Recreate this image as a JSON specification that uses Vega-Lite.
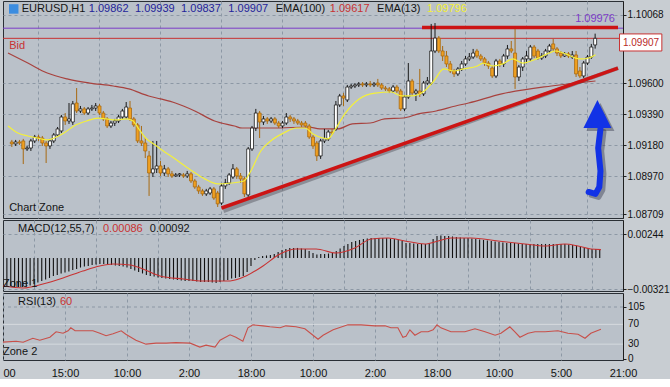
{
"$schema": "https://vega.github.io/schema/vega-lite/v6.json",
"background": "#c8cdd2",
"padding": 0,
"spacing": 2,
"bounds": "flush",
"config": {
 "view": {"stroke": "#2a2f35", "strokeWidth": 1, "fill": "#bac1c9"},
 "axis": {"labelFont": "Liberation Sans", "labelFontSize": 11, "labelColor": "#111111", "domainColor": "#1e1e1e", "tickColor": "#1e1e1e", "tickSize": 3},
 "text": {"font": "Liberation Sans", "fontSize": 11}
},
"datasets": {
 "candles": [
{"i":1,"o":1.09202,"h":1.09216,"l":1.09168,"c":1.09189},
{"i":2,"o":1.09189,"h":1.09216,"l":1.09175,"c":1.09202},
{"i":3,"o":1.09202,"h":1.09216,"l":1.09182,"c":1.09195},
{"i":4,"o":1.09209,"h":1.09223,"l":1.09052,"c":1.09155},
{"i":5,"o":1.09155,"h":1.09175,"l":1.09141,"c":1.09161},
{"i":6,"o":1.09161,"h":1.09223,"l":1.09141,"c":1.09209},
{"i":7,"o":1.09209,"h":1.0925,"l":1.09195,"c":1.09236},
{"i":8,"o":1.09236,"h":1.0925,"l":1.09209,"c":1.09229},
{"i":9,"o":1.09229,"h":1.09243,"l":1.09175,"c":1.09195},
{"i":10,"o":1.09195,"h":1.09209,"l":1.09059,"c":1.09175},
{"i":11,"o":1.09175,"h":1.09223,"l":1.09155,"c":1.09209},
{"i":12,"o":1.09209,"h":1.09263,"l":1.09195,"c":1.0925},
{"i":13,"o":1.0925,"h":1.09304,"l":1.09236,"c":1.09291},
{"i":14,"o":1.09277,"h":1.09386,"l":1.09263,"c":1.09372},
{"i":15,"o":1.09372,"h":1.09399,"l":1.09318,"c":1.09345},
{"i":16,"o":1.09345,"h":1.09467,"l":1.09325,"c":1.09359},
{"i":17,"o":1.09338,"h":1.09481,"l":1.09318,"c":1.09461},
{"i":18,"o":1.09467,"h":1.09569,"l":1.09399,"c":1.09413},
{"i":19,"o":1.09413,"h":1.09447,"l":1.09399,"c":1.09427},
{"i":20,"o":1.09427,"h":1.0944,"l":1.09386,"c":1.09399},
{"i":21,"o":1.09399,"h":1.0944,"l":1.09386,"c":1.09427},
{"i":22,"o":1.09427,"h":1.09454,"l":1.09413,"c":1.09433},
{"i":23,"o":1.09433,"h":1.09467,"l":1.09413,"c":1.09447},
{"i":24,"o":1.09447,"h":1.09461,"l":1.09386,"c":1.09399},
{"i":25,"o":1.09399,"h":1.09413,"l":1.09345,"c":1.09359},
{"i":26,"o":1.09359,"h":1.09372,"l":1.09297,"c":1.09311},
{"i":27,"o":1.09311,"h":1.09345,"l":1.09297,"c":1.09331},
{"i":28,"o":1.09331,"h":1.09359,"l":1.09311,"c":1.09345},
{"i":29,"o":1.09345,"h":1.09386,"l":1.09331,"c":1.09372},
{"i":30,"o":1.09372,"h":1.09427,"l":1.09359,"c":1.09413},
{"i":31,"o":1.09372,"h":1.09474,"l":1.09359,"c":1.0944},
{"i":32,"o":1.09433,"h":1.09481,"l":1.09345,"c":1.09359},
{"i":33,"o":1.09359,"h":1.09372,"l":1.09304,"c":1.09318},
{"i":34,"o":1.09318,"h":1.09331,"l":1.09195,"c":1.09209},
{"i":35,"o":1.09209,"h":1.09311,"l":1.09175,"c":1.09195},
{"i":36,"o":1.09195,"h":1.09236,"l":1.09093,"c":1.09141},
{"i":37,"o":1.09107,"h":1.09141,"l":1.08835,"c":1.08991},
{"i":38,"o":1.08991,"h":1.09209,"l":1.08964,"c":1.09019},
{"i":39,"o":1.09019,"h":1.09209,"l":1.08991,"c":1.09039},
{"i":40,"o":1.09039,"h":1.09073,"l":1.08971,"c":1.08991},
{"i":41,"o":1.08991,"h":1.09046,"l":1.08971,"c":1.09019},
{"i":42,"o":1.09019,"h":1.09032,"l":1.08964,"c":1.08985},
{"i":43,"o":1.08985,"h":1.09005,"l":1.08957,"c":1.08971},
{"i":44,"o":1.08971,"h":1.08991,"l":1.08964,"c":1.08978},
{"i":45,"o":1.08978,"h":1.08991,"l":1.08964,"c":1.08985},
{"i":46,"o":1.08978,"h":1.08991,"l":1.08957,"c":1.08971},
{"i":47,"o":1.08971,"h":1.09005,"l":1.08957,"c":1.08985},
{"i":48,"o":1.08985,"h":1.08998,"l":1.08923,"c":1.08937},
{"i":49,"o":1.08937,"h":1.08951,"l":1.08883,"c":1.08896},
{"i":50,"o":1.08896,"h":1.0891,"l":1.08849,"c":1.08869},
{"i":51,"o":1.08869,"h":1.08883,"l":1.08835,"c":1.08849},
{"i":52,"o":1.08849,"h":1.08883,"l":1.08835,"c":1.08869},
{"i":53,"o":1.08855,"h":1.08896,"l":1.08842,"c":1.08883},
{"i":54,"o":1.08883,"h":1.08896,"l":1.08808,"c":1.08821},
{"i":55,"o":1.08855,"h":1.08869,"l":1.0876,"c":1.08781},
{"i":56,"o":1.08787,"h":1.08917,"l":1.08774,"c":1.08903},
{"i":57,"o":1.08903,"h":1.08951,"l":1.08883,"c":1.08923},
{"i":58,"o":1.08923,"h":1.08991,"l":1.0891,"c":1.08978},
{"i":59,"o":1.08964,"h":1.09052,"l":1.08951,"c":1.09019},
{"i":60,"o":1.09019,"h":1.09032,"l":1.08951,"c":1.08971},
{"i":61,"o":1.08971,"h":1.08991,"l":1.08923,"c":1.08951},
{"i":62,"o":1.08951,"h":1.08964,"l":1.08828,"c":1.08849},
{"i":63,"o":1.08842,"h":1.09168,"l":1.08828,"c":1.09155},
{"i":64,"o":1.09155,"h":1.09311,"l":1.09141,"c":1.09297},
{"i":65,"o":1.09297,"h":1.09427,"l":1.09277,"c":1.09399},
{"i":66,"o":1.09399,"h":1.09413,"l":1.09229,"c":1.09338},
{"i":67,"o":1.09338,"h":1.09379,"l":1.09318,"c":1.09359},
{"i":68,"o":1.09359,"h":1.09372,"l":1.09325,"c":1.09345},
{"i":69,"o":1.09345,"h":1.09372,"l":1.09331,"c":1.09359},
{"i":70,"o":1.09359,"h":1.09372,"l":1.09318,"c":1.09331},
{"i":71,"o":1.09331,"h":1.09345,"l":1.09297,"c":1.09311},
{"i":72,"o":1.09311,"h":1.09345,"l":1.09297,"c":1.09331},
{"i":73,"o":1.09331,"h":1.09399,"l":1.09318,"c":1.09372},
{"i":74,"o":1.09372,"h":1.09386,"l":1.09338,"c":1.09359},
{"i":75,"o":1.09359,"h":1.09372,"l":1.09325,"c":1.09345},
{"i":76,"o":1.09345,"h":1.09359,"l":1.09318,"c":1.09331},
{"i":77,"o":1.09331,"h":1.09345,"l":1.09304,"c":1.09318},
{"i":78,"o":1.09331,"h":1.09345,"l":1.09297,"c":1.09311},
{"i":79,"o":1.09311,"h":1.09325,"l":1.09223,"c":1.09236},
{"i":80,"o":1.09236,"h":1.0925,"l":1.09155,"c":1.09175},
{"i":81,"o":1.09195,"h":1.09209,"l":1.09073,"c":1.09107},
{"i":82,"o":1.09107,"h":1.09223,"l":1.09087,"c":1.09209},
{"i":83,"o":1.09209,"h":1.09291,"l":1.09195,"c":1.09223},
{"i":84,"o":1.09223,"h":1.09284,"l":1.09209,"c":1.0927},
{"i":85,"o":1.0927,"h":1.09291,"l":1.0925,"c":1.09263},
{"i":86,"o":1.09291,"h":1.09481,"l":1.09277,"c":1.09454},
{"i":87,"o":1.09454,"h":1.09529,"l":1.0944,"c":1.09515},
{"i":88,"o":1.09515,"h":1.09535,"l":1.09447,"c":1.09501},
{"i":89,"o":1.09488,"h":1.0959,"l":1.09474,"c":1.09576},
{"i":90,"o":1.09576,"h":1.09597,"l":1.09563,"c":1.09583},
{"i":91,"o":1.09583,"h":1.09603,"l":1.09569,"c":1.0959},
{"i":92,"o":1.0959,"h":1.0961,"l":1.09576,"c":1.09597},
{"i":93,"o":1.09597,"h":1.0961,"l":1.09576,"c":1.0959},
{"i":94,"o":1.0959,"h":1.0961,"l":1.09576,"c":1.09597},
{"i":95,"o":1.09597,"h":1.09617,"l":1.09576,"c":1.0959},
{"i":96,"o":1.0959,"h":1.0961,"l":1.09576,"c":1.09597},
{"i":97,"o":1.09603,"h":1.09631,"l":1.09576,"c":1.0959},
{"i":98,"o":1.0959,"h":1.09603,"l":1.09556,"c":1.09569},
{"i":99,"o":1.09569,"h":1.09583,"l":1.09549,"c":1.09563},
{"i":100,"o":1.09563,"h":1.09576,"l":1.09535,"c":1.09549},
{"i":101,"o":1.09549,"h":1.0959,"l":1.09535,"c":1.09576},
{"i":102,"o":1.09576,"h":1.0959,"l":1.09535,"c":1.09549},
{"i":103,"o":1.09549,"h":1.09563,"l":1.09413,"c":1.09427},
{"i":104,"o":1.09427,"h":1.09522,"l":1.09413,"c":1.09508},
{"i":105,"o":1.09508,"h":1.09739,"l":1.09495,"c":1.09617},
{"i":106,"o":1.09617,"h":1.09631,"l":1.09515,"c":1.09535},
{"i":107,"o":1.09535,"h":1.09563,"l":1.09481,"c":1.09549},
{"i":108,"o":1.09549,"h":1.09699,"l":1.09508,"c":1.09529},
{"i":109,"o":1.09529,"h":1.09617,"l":1.09515,"c":1.09603},
{"i":110,"o":1.09603,"h":1.09644,"l":1.0959,"c":1.09617},
{"i":111,"o":1.09603,"h":1.10005,"l":1.0959,"c":1.09821},
{"i":112,"o":1.09821,"h":1.10011,"l":1.09807,"c":1.09909},
{"i":113,"o":1.09909,"h":1.09923,"l":1.09807,"c":1.09821},
{"i":114,"o":1.09821,"h":1.09855,"l":1.09753,"c":1.09787},
{"i":115,"o":1.09787,"h":1.09821,"l":1.09712,"c":1.09733},
{"i":116,"o":1.09733,"h":1.09753,"l":1.09671,"c":1.09685},
{"i":117,"o":1.09685,"h":1.09699,"l":1.09644,"c":1.09665},
{"i":118,"o":1.09665,"h":1.09712,"l":1.09651,"c":1.09699},
{"i":119,"o":1.09699,"h":1.09753,"l":1.09685,"c":1.09733},
{"i":120,"o":1.09733,"h":1.09787,"l":1.09719,"c":1.09767},
{"i":121,"o":1.09767,"h":1.09807,"l":1.09753,"c":1.0978},
{"i":122,"o":1.0978,"h":1.09835,"l":1.09767,"c":1.09807},
{"i":123,"o":1.09821,"h":1.09835,"l":1.09773,"c":1.09787},
{"i":124,"o":1.09787,"h":1.09801,"l":1.09753,"c":1.09767},
{"i":125,"o":1.09767,"h":1.0978,"l":1.09719,"c":1.09739},
{"i":126,"o":1.09739,"h":1.09753,"l":1.09699,"c":1.09719},
{"i":127,"o":1.09705,"h":1.09719,"l":1.09637,"c":1.09651},
{"i":128,"o":1.09651,"h":1.09767,"l":1.09637,"c":1.09753},
{"i":129,"o":1.09753,"h":1.09767,"l":1.09712,"c":1.09733},
{"i":130,"o":1.09733,"h":1.09801,"l":1.09712,"c":1.09787},
{"i":131,"o":1.09787,"h":1.09862,"l":1.09767,"c":1.09835},
{"i":132,"o":1.09835,"h":1.09889,"l":1.09807,"c":1.09821},
{"i":133,"o":1.09807,"h":1.09971,"l":1.09563,"c":1.09644},
{"i":134,"o":1.09644,"h":1.09726,"l":1.09617,"c":1.09712},
{"i":135,"o":1.09712,"h":1.0978,"l":1.09685,"c":1.09767},
{"i":136,"o":1.09767,"h":1.09821,"l":1.09739,"c":1.09787},
{"i":137,"o":1.09767,"h":1.09862,"l":1.09753,"c":1.09848},
{"i":138,"o":1.09848,"h":1.09862,"l":1.09773,"c":1.09787},
{"i":139,"o":1.09821,"h":1.09835,"l":1.0976,"c":1.09773},
{"i":140,"o":1.09773,"h":1.09807,"l":1.0976,"c":1.09787},
{"i":141,"o":1.09787,"h":1.09835,"l":1.09773,"c":1.09821},
{"i":142,"o":1.09821,"h":1.09869,"l":1.09807,"c":1.09855},
{"i":143,"o":1.09869,"h":1.09903,"l":1.09821,"c":1.09835},
{"i":144,"o":1.09835,"h":1.09848,"l":1.09787,"c":1.09807},
{"i":145,"o":1.09807,"h":1.09821,"l":1.09773,"c":1.09787},
{"i":146,"o":1.09787,"h":1.09814,"l":1.0978,"c":1.09801},
{"i":147,"o":1.09801,"h":1.09814,"l":1.09773,"c":1.09787},
{"i":148,"o":1.0978,"h":1.09821,"l":1.09767,"c":1.09794},
{"i":149,"o":1.09794,"h":1.09821,"l":1.09644,"c":1.09665},
{"i":150,"o":1.09685,"h":1.09712,"l":1.09637,"c":1.09651},
{"i":151,"o":1.09651,"h":1.09753,"l":1.09637,"c":1.09739},
{"i":152,"o":1.09739,"h":1.09794,"l":1.09726,"c":1.0978},
{"i":153,"o":1.0978,"h":1.09869,"l":1.09767,"c":1.09848},
{"i":154,"o":1.09862,"h":1.09939,"l":1.09837,"c":1.09907}
 ],
 "e13": [
{"i":0,"p":1.09311},{"i":2.6,"p":1.09263},{"i":5.2,"p":1.09243},{"i":7.7,"p":1.09229},{"i":10.3,"p":1.09216},{"i":12.1,"p":1.09229},{"i":14.7,"p":1.09263},{"i":17.3,"p":1.09311},{"i":20.6,"p":1.09345},{"i":23.7,"p":1.09365},{"i":25.8,"p":1.09359},{"i":28.4,"p":1.09352},{"i":31,"p":1.09359},{"i":32.8,"p":1.09345},{"i":34.3,"p":1.09291},{"i":36.1,"p":1.09229},{"i":38.2,"p":1.09189},{"i":40,"p":1.09155},{"i":44.6,"p":1.09073},{"i":48.3,"p":1.09005},{"i":51.6,"p":1.08951},{"i":55,"p":1.08917},{"i":58.6,"p":1.08923},{"i":61.9,"p":1.08937},{"i":63.7,"p":1.09005},{"i":66.3,"p":1.09141},{"i":68.9,"p":1.09209},{"i":72.3,"p":1.09263},{"i":75.6,"p":1.09297},{"i":77.9,"p":1.09297},{"i":80,"p":1.09257},{"i":82.6,"p":1.09229},{"i":83.9,"p":1.09223},{"i":85.9,"p":1.09291},{"i":88.5,"p":1.09399},{"i":92.1,"p":1.09495},{"i":96.3,"p":1.09535},{"i":100.6,"p":1.09542},{"i":103.2,"p":1.09515},{"i":105.8,"p":1.09515},{"i":109.2,"p":1.09549},{"i":111.7,"p":1.09617},{"i":114.3,"p":1.09699},{"i":116.9,"p":1.09685},{"i":119.5,"p":1.09699},{"i":123.1,"p":1.09719},{"i":124.6,"p":1.09739},{"i":127.2,"p":1.09719},{"i":129.8,"p":1.09733},{"i":132.4,"p":1.09767},{"i":135,"p":1.09739},{"i":138.6,"p":1.09767},{"i":141.9,"p":1.09807},{"i":143.7,"p":1.09821},{"i":146.3,"p":1.09801},{"i":148.9,"p":1.09773},{"i":150.5,"p":1.09767},{"i":152.3,"p":1.09773},{"i":154.1,"p":1.09796}
 ],
 "e100": [
{"i":0,"p":1.09807},{"i":5.2,"p":1.09739},{"i":10.3,"p":1.09671},{"i":15.5,"p":1.09631},{"i":21.4,"p":1.09603},{"i":27.6,"p":1.09583},{"i":31.7,"p":1.09563},{"i":36.9,"p":1.09515},{"i":40,"p":1.09495},{"i":43.9,"p":1.09467},{"i":49,"p":1.09413},{"i":54.2,"p":1.09345},{"i":59.4,"p":1.09311},{"i":61.4,"p":1.09297},{"i":69.7,"p":1.09297},{"i":78.7,"p":1.09304},{"i":81.8,"p":1.09291},{"i":86.5,"p":1.09291},{"i":90.3,"p":1.09325},{"i":95,"p":1.09331},{"i":98.8,"p":1.09359},{"i":103.7,"p":1.09365},{"i":107.6,"p":1.09393},{"i":112.3,"p":1.09413},{"i":117.4,"p":1.09447},{"i":120.8,"p":1.09467},{"i":129.5,"p":1.09529},{"i":142.5,"p":1.09583},{"i":154.1,"p":1.09617}
 ],
 "arrow": [
{"k":1,"i":155.4,"p":1.09291},{"k":2,"i":154.8,"p":1.09161},{"k":3,"i":155.4,"p":1.09005},{"k":4,"i":155.1,"p":1.08896},{"k":5,"i":154.1,"p":1.08849},{"k":6,"i":152.3,"p":1.08862}
 ],
 "notes1": [
{"t":"EURUSD,H1","i":3.6,"p":1.10107,"g":"k"},
{"t":"1.09862","i":21.2,"p":1.10107,"g":"b"},
{"t":"1.09939","i":33.3,"p":1.10107,"g":"b"},
{"t":"1.09837","i":45.4,"p":1.10107,"g":"b"},
{"t":"1.09907","i":57.8,"p":1.10107,"g":"b"},
{"t":"EMA(100)","i":70.2,"p":1.10107,"g":"k"},
{"t":"1.09617","i":84.4,"p":1.10107,"g":"r"},
{"t":"EMA(13)","i":96.8,"p":1.10107,"g":"k"},
{"t":"1.09796","i":109.9,"p":1.10107,"g":"y"},
{"t":"Bid","i":0.3,"p":1.09855,"g":"r"},
{"t":"Chart Zone","i":0.3,"p":1.08753,"g":"k"}
 ],
 "macd": [
{"i":1,"m":-0.00288},{"i":2,"m":-0.00293},{"i":3,"m":-0.00298},{"i":4,"m":-0.00298},{"i":5,"m":-0.00298},{"i":6,"m":-0.00293},{"i":7,"m":-0.00282},{"i":8,"m":-0.00267},{"i":9,"m":-0.00252},{"i":10,"m":-0.00236},
{"i":11,"m":-0.00221},{"i":12,"m":-0.00205},{"i":13,"m":-0.00185},{"i":14,"m":-0.00175},{"i":15,"m":-0.00159},{"i":16,"m":-0.00149},{"i":17,"m":-0.00139},{"i":18,"m":-0.00123},{"i":19,"m":-0.00113},{"i":20,"m":-0.00098},
{"i":21,"m":-0.00087},{"i":22,"m":-0.00082},{"i":23,"m":-0.00072},{"i":24,"m":-0.00067},{"i":25,"m":-0.00062},{"i":26,"m":-0.00062},{"i":27,"m":-0.00067},{"i":28,"m":-0.00072},{"i":29,"m":-0.00077},{"i":30,"m":-0.00082},
{"i":31,"m":-0.00087},{"i":32,"m":-0.00098},{"i":33,"m":-0.00113},{"i":34,"m":-0.00128},{"i":35,"m":-0.00144},{"i":36,"m":-0.00159},{"i":37,"m":-0.00175},{"i":38,"m":-0.00185},{"i":39,"m":-0.0019},{"i":40,"m":-0.002},
{"i":41,"m":-0.00205},{"i":42,"m":-0.00211},{"i":43,"m":-0.00216},{"i":44,"m":-0.00221},{"i":45,"m":-0.00226},{"i":46,"m":-0.00231},{"i":47,"m":-0.00236},{"i":48,"m":-0.00236},{"i":49,"m":-0.00236},{"i":50,"m":-0.00241},
{"i":51,"m":-0.00246},{"i":52,"m":-0.00246},{"i":53,"m":-0.00246},{"i":54,"m":-0.00252},{"i":55,"m":-0.00257},{"i":56,"m":-0.00246},{"i":57,"m":-0.00236},{"i":58,"m":-0.00226},{"i":59,"m":-0.00211},{"i":60,"m":-0.00205},
{"i":61,"m":-0.00195},{"i":62,"m":-0.00185},{"i":63,"m":-0.00144},{"i":64,"m":-0.00082},{"i":65,"m":-0.00021},{"i":66,"m":0.0001},{"i":67,"m":0.00021},{"i":68,"m":0.00026},{"i":69,"m":0.00031},{"i":70,"m":0.00041},
{"i":71,"m":0.00062},{"i":72,"m":0.00082},{"i":73,"m":0.00092},{"i":74,"m":0.00103},{"i":75,"m":0.00103},{"i":76,"m":0.00103},{"i":77,"m":0.00098},{"i":78,"m":0.00092},{"i":79,"m":0.00072},{"i":80,"m":0.00051},
{"i":81,"m":0.00036},{"i":82,"m":0.00041},{"i":83,"m":0.00041},{"i":84,"m":0.00046},{"i":85,"m":0.00051},{"i":86,"m":0.00072},{"i":87,"m":0.00098},{"i":88,"m":0.00123},{"i":89,"m":0.00144},{"i":90,"m":0.00164},
{"i":91,"m":0.00175},{"i":92,"m":0.00185},{"i":93,"m":0.00195},{"i":94,"m":0.002},{"i":95,"m":0.00205},{"i":96,"m":0.00205},{"i":97,"m":0.00205},{"i":98,"m":0.00205},{"i":99,"m":0.00205},{"i":100,"m":0.002},
{"i":101,"m":0.00195},{"i":102,"m":0.0019},{"i":103,"m":0.00175},{"i":104,"m":0.00154},{"i":105,"m":0.00154},{"i":106,"m":0.00149},{"i":107,"m":0.00144},{"i":108,"m":0.00144},{"i":109,"m":0.00144},{"i":110,"m":0.00154},
{"i":111,"m":0.00195},{"i":112,"m":0.00226},{"i":113,"m":0.00231},{"i":114,"m":0.00226},{"i":115,"m":0.00226},{"i":116,"m":0.00221},{"i":117,"m":0.00216},{"i":118,"m":0.00211},{"i":119,"m":0.00205},{"i":120,"m":0.00205},
{"i":121,"m":0.002},{"i":122,"m":0.00195},{"i":123,"m":0.0019},{"i":124,"m":0.00185},{"i":125,"m":0.0018},{"i":126,"m":0.00175},{"i":127,"m":0.00169},{"i":128,"m":0.00164},{"i":129,"m":0.00159},{"i":130,"m":0.00154},
{"i":131,"m":0.00154},{"i":132,"m":0.00154},{"i":133,"m":0.00149},{"i":134,"m":0.00144},{"i":135,"m":0.00144},{"i":136,"m":0.00144},{"i":137,"m":0.00144},{"i":138,"m":0.00144},{"i":139,"m":0.00144},{"i":140,"m":0.00144},
{"i":141,"m":0.00144},{"i":142,"m":0.00144},{"i":143,"m":0.00144},{"i":144,"m":0.00144},{"i":145,"m":0.00144},{"i":146,"m":0.00139},{"i":147,"m":0.00133},{"i":148,"m":0.00128},{"i":149,"m":0.00118},{"i":150,"m":0.00108},
{"i":151,"m":0.00098},{"i":152,"m":0.00092},{"i":153,"m":0.00092},{"i":154,"m":0.00092}
 ],
 "signal": [
{"i":0,"v":-0.00288},{"i":5.2,"v":-0.00308},{"i":10.3,"v":-0.00267},{"i":15.5,"v":-0.00205},{"i":20.6,"v":-0.00134},{"i":25,"v":-0.00082},{"i":28.4,"v":-0.00062},{"i":32.8,"v":-0.00072},{"i":36.1,"v":-0.00113},{"i":40.5,"v":-0.00185},{"i":46.5,"v":-0.00216},{"i":51.6,"v":-0.00236},{"i":58.6,"v":-0.00236},{"i":62.7,"v":-0.00185},{"i":67.1,"v":-0.00082},{"i":71.5,"v":0.00041},{"i":75.6,"v":0.00092},{"i":80.8,"v":0.00092},{"i":85.9,"v":0.00051},{"i":90.8,"v":0.00103},{"i":95,"v":0.00195},{"i":99.4,"v":0.00205},{"i":103.7,"v":0.00175},{"i":108.9,"v":0.00144},{"i":112.3,"v":0.00175},{"i":115.6,"v":0.00205},{"i":120.8,"v":0.00205},{"i":127.7,"v":0.00175},{"i":134.7,"v":0.00144},{"i":139.9,"v":0.00123},{"i":145,"v":0.00144},{"i":148.4,"v":0.00123},{"i":151.7,"v":0.00092},{"i":154.3,"v":0.00086}
 ],
 "notes2": [
{"t":"MACD(12,55,7)","i":3.9,"v":0.00298,"g":"k"},
{"t":"0.00086","i":25.8,"v":0.00298,"g":"r"},
{"t":"0.00092","i":37.9,"v":0.00298,"g":"k"},
{"t":"Zone 1","i":0,"v":-0.00267,"g":"k"}
 ],
 "rsi": [
{"i":0,"r":34},{"i":3.4,"r":36},{"i":5.2,"r":34},{"i":7.7,"r":42},{"i":9.5,"r":38},{"i":12.1,"r":44},{"i":13.7,"r":55},{"i":15.5,"r":52},{"i":16.8,"r":57},{"i":17.5,"r":63},{"i":18.6,"r":57},{"i":20.6,"r":57},{"i":23.2,"r":57},{"i":25,"r":52},{"i":26.6,"r":47},{"i":28.4,"r":51},{"i":30.5,"r":57},{"i":31.7,"r":50},{"i":34.3,"r":38},{"i":36.9,"r":30},{"i":39.5,"r":32},{"i":42.1,"r":32},{"i":44.6,"r":33},{"i":48.3,"r":32},{"i":50.8,"r":24},{"i":52.4,"r":28},{"i":54.7,"r":24},{"i":56,"r":38},{"i":58.6,"r":49},{"i":60.1,"r":44},{"i":61.9,"r":36},{"i":63.2,"r":63},{"i":64.5,"r":69},{"i":67.1,"r":67},{"i":68.9,"r":65},{"i":71.5,"r":63},{"i":73,"r":67},{"i":75.6,"r":65},{"i":77.9,"r":61},{"i":80,"r":48},{"i":81.3,"r":40},{"i":82.6,"r":48},{"i":85.2,"r":59},{"i":89,"r":69},{"i":92.4,"r":69},{"i":96,"r":67},{"i":98.6,"r":67},{"i":100.1,"r":63},{"i":101.9,"r":63},{"i":103.2,"r":44},{"i":104,"r":46},{"i":105,"r":59},{"i":106.3,"r":48},{"i":107.9,"r":55},{"i":109.7,"r":55},{"i":111,"r":59},{"i":112,"r":69},{"i":113,"r":63},{"i":115.6,"r":55},{"i":119.2,"r":55},{"i":121.8,"r":61},{"i":124.4,"r":55},{"i":127,"r":48},{"i":128.5,"r":52},{"i":130.8,"r":65},{"i":132.1,"r":55},{"i":133.4,"r":44},{"i":135.5,"r":52},{"i":137.3,"r":55},{"i":139.9,"r":55},{"i":143.2,"r":57},{"i":145.8,"r":52},{"i":148.4,"r":50},{"i":150.2,"r":42},{"i":151.7,"r":52},{"i":154.3,"r":60}
 ],
 "notes3": [
{"t":"RSI(13)","i":3.9,"r":115,"g":"k"},
{"t":"60","i":14.7,"r":115,"g":"r"},
{"t":"Zone 2","i":0,"r":14,"g":"k"}
 ],
 "rsilevels": [
{"lv":0},{"lv":30},{"lv":70},{"lv":105}
 ]
},
"vconcat": [
{
 "width": 620, "height": 217,
 "layer": [
  {"data": {"name": "e100"}, "mark": {"type": "line", "color": "#a8423e", "strokeWidth": 1.2, "interpolate": "monotone"},
   "encoding": {
    "x": {"field": "i", "type": "quantitative", "scale": {"domain": [0, 160], "nice": false, "zero": false},
          "axis": {"values": [8,16,24,32,40,48,56,64,72,80,88,96,104,112,120,128,136,144,152], "labels": false, "ticks": false, "domain": false, "grid": true, "gridColor": "#8d98a5", "gridDash": [3, 3], "title": null}},
    "y": {"field": "p", "type": "quantitative", "scale": {"domain": [1.08685, 1.10161], "nice": false, "zero": false},
          "axis": {"orient": "right", "values": [1.08709, 1.0897, 1.0918, 1.0939, 1.096, 1.10068], "format": ".5f", "grid": true, "gridColor": "#8d98a5", "gridDash": [3, 3], "title": null, "labelPadding": 1, "labelFontSize": 10, "labelOverlap": false}}
   }},
  {"data": {"values": [{}]}, "mark": {"type": "rule", "color": "#7c3cc8", "strokeWidth": 1},
   "encoding": {"y": {"datum": 1.09976, "type": "quantitative", "scale": {"domain": [1.08685, 1.10161], "nice": false, "zero": false}}}},
  {"data": {"values": [{}]}, "mark": {"type": "rule", "color": "#c83232", "strokeWidth": 1},
   "encoding": {"y": {"datum": 1.09907, "type": "quantitative", "scale": {"domain": [1.08685, 1.10161], "nice": false, "zero": false}}}},
  {"data": {"values": [{}]}, "mark": {"type": "rule", "color": "#cc1414", "strokeWidth": 3.5},
   "encoding": {
    "x": {"datum": 108.6, "type": "quantitative", "scale": {"domain": [0, 160], "nice": false, "zero": false}},
    "x2": {"datum": 160},
    "y": {"datum": 1.0998, "type": "quantitative", "scale": {"domain": [1.08685, 1.10161], "nice": false, "zero": false}}}},
  {"data": {"name": "candles"}, "mark": {"type": "rule", "strokeWidth": 1},
   "encoding": {
    "x": {"field": "i", "type": "quantitative", "scale": {"domain": [0, 160], "nice": false, "zero": false}},
    "y": {"field": "l", "type": "quantitative", "scale": {"domain": [1.08685, 1.10161], "nice": false, "zero": false}},
    "y2": {"field": "h"},
    "color": {"condition": {"test": "datum.c >= datum.o", "value": "#1a1a1a"}, "value": "#a86a12"}}},
  {"data": {"name": "candles"}, "mark": {"type": "bar", "size": 3, "strokeWidth": 0.8},
   "encoding": {
    "x": {"field": "i", "type": "quantitative", "scale": {"domain": [0, 160], "nice": false, "zero": false}},
    "y": {"field": "o", "type": "quantitative", "scale": {"domain": [1.08685, 1.10161], "nice": false, "zero": false}},
    "y2": {"field": "c"},
    "fill": {"condition": {"test": "datum.c >= datum.o", "value": "#ffffff"}, "value": "#f0a020"},
    "stroke": {"condition": {"test": "datum.c >= datum.o", "value": "#1a1a1a"}, "value": "#a86a12"}}},
  {"data": {"name": "e13"}, "mark": {"type": "line", "color": "#f4f03a", "strokeWidth": 1.2, "interpolate": "monotone"},
   "encoding": {
    "x": {"field": "i", "type": "quantitative", "scale": {"domain": [0, 160], "nice": false, "zero": false}},
    "y": {"field": "p", "type": "quantitative", "scale": {"domain": [1.08685, 1.10161], "nice": false, "zero": false}}}},
  {"data": {"values": [{}]}, "mark": {"type": "rule", "color": "#303038", "opacity": 0.35, "strokeWidth": 4, "xOffset": 2, "yOffset": 3},
   "encoding": {
    "x": {"datum": 56, "type": "quantitative", "scale": {"domain": [0, 160], "nice": false, "zero": false}},
    "x2": {"datum": 160},
    "y": {"datum": 1.08753, "type": "quantitative", "scale": {"domain": [1.08685, 1.10161], "nice": false, "zero": false}},
    "y2": {"datum": 1.09705}}},
  {"data": {"values": [{}]}, "mark": {"type": "rule", "color": "#cc1414", "strokeWidth": 3.5},
   "encoding": {
    "x": {"datum": 56, "type": "quantitative", "scale": {"domain": [0, 160], "nice": false, "zero": false}},
    "x2": {"datum": 160},
    "y": {"datum": 1.08753, "type": "quantitative", "scale": {"domain": [1.08685, 1.10161], "nice": false, "zero": false}},
    "y2": {"datum": 1.09705}}},
  {"data": {"name": "arrow"}, "mark": {"type": "line", "color": "#2a2a40", "opacity": 0.4, "strokeWidth": 6, "strokeCap": "round", "strokeJoin": "round", "interpolate": "linear", "xOffset": 3, "yOffset": 3},
   "encoding": {
    "x": {"field": "i", "type": "quantitative", "scale": {"domain": [0, 160], "nice": false, "zero": false}},
    "y": {"field": "p", "type": "quantitative", "scale": {"domain": [1.08685, 1.10161], "nice": false, "zero": false}},
    "order": {"field": "k"}}},
  {"data": {"values": [{}]}, "mark": {"type": "point", "shape": "M-1,1L1,1L0,-1Z", "filled": true, "size": 784, "color": "#2a2a40", "opacity": 0.4, "xOffset": 3, "yOffset": 3},
   "encoding": {
    "x": {"datum": 154.6, "type": "quantitative", "scale": {"domain": [0, 160], "nice": false, "zero": false}},
    "y": {"datum": 1.09393, "type": "quantitative", "scale": {"domain": [1.08685, 1.10161], "nice": false, "zero": false}}}},
  {"data": {"name": "arrow"}, "mark": {"type": "line", "color": "#1232e6", "strokeWidth": 6, "strokeCap": "round", "strokeJoin": "round", "interpolate": "linear"},
   "encoding": {
    "x": {"field": "i", "type": "quantitative", "scale": {"domain": [0, 160], "nice": false, "zero": false}},
    "y": {"field": "p", "type": "quantitative", "scale": {"domain": [1.08685, 1.10161], "nice": false, "zero": false}},
    "order": {"field": "k"}}},
  {"data": {"values": [{}]}, "mark": {"type": "point", "shape": "M-1,1L1,1L0,-1Z", "filled": true, "size": 784, "color": "#1232e6", "opacity": 1},
   "encoding": {
    "x": {"datum": 154.6, "type": "quantitative", "scale": {"domain": [0, 160], "nice": false, "zero": false}},
    "y": {"datum": 1.09393, "type": "quantitative", "scale": {"domain": [1.08685, 1.10161], "nice": false, "zero": false}}}},
  {"data": {"values": [{}]}, "mark": {"type": "point", "shape": "square", "filled": true, "size": 90, "color": "#3c8de0", "opacity": 1},
   "encoding": {
    "x": {"datum": 1.5, "type": "quantitative", "scale": {"domain": [0, 160], "nice": false, "zero": false}},
    "y": {"datum": 1.10107, "type": "quantitative", "scale": {"domain": [1.08685, 1.10161], "nice": false, "zero": false}}}},
  {"data": {"name": "notes1"}, "mark": {"type": "text", "align": "left", "baseline": "middle", "font": "Liberation Sans", "fontSize": 11},
   "encoding": {
    "x": {"field": "i", "type": "quantitative", "scale": {"domain": [0, 160], "nice": false, "zero": false}},
    "y": {"field": "p", "type": "quantitative", "scale": {"domain": [1.08685, 1.10161], "nice": false, "zero": false}},
    "text": {"field": "t"},
    "color": {"field": "g", "type": "nominal", "scale": {"domain": ["k", "b", "r", "y", "p"], "range": ["#141414", "#24249a", "#c83232", "#f4f032", "#7c3cc8"]}, "legend": null}}},
  {"data": {"values": [{}]}, "mark": {"type": "text", "text": "1.09976", "align": "right", "baseline": "middle", "font": "Liberation Sans", "fontSize": 11, "color": "#7c3cc8"},
   "encoding": {
    "x": {"datum": 159.2, "type": "quantitative", "scale": {"domain": [0, 160], "nice": false, "zero": false}},
    "y": {"datum": 1.10039, "type": "quantitative", "scale": {"domain": [1.08685, 1.10161], "nice": false, "zero": false}}}},
  {"data": {"values": [{}]}, "mark": {"type": "rect", "fill": "#ffffff", "stroke": "#c83232", "strokeWidth": 1},
   "encoding": {
    "x": {"datum": 160.4, "type": "quantitative", "scale": {"domain": [0, 160], "nice": false, "zero": false}},
    "x2": {"datum": 171.5},
    "y": {"datum": 1.09937, "type": "quantitative", "scale": {"domain": [1.08685, 1.10161], "nice": false, "zero": false}},
    "y2": {"datum": 1.09821}}},
  {"data": {"values": [{}]}, "mark": {"type": "text", "text": "1.09907", "align": "left", "baseline": "middle", "font": "Liberation Sans", "fontSize": 10, "color": "#b82828"},
   "encoding": {
    "x": {"datum": 161.3, "type": "quantitative", "scale": {"domain": [0, 160], "nice": false, "zero": false}},
    "y": {"datum": 1.09877, "type": "quantitative", "scale": {"domain": [1.08685, 1.10161], "nice": false, "zero": false}}}}
 ]
},
{
 "width": 620, "height": 71,
 "layer": [
  {"data": {"name": "macd"}, "mark": {"type": "rule", "color": "#111111", "strokeWidth": 1.1},
   "encoding": {
    "x": {"field": "i", "type": "quantitative", "scale": {"domain": [0, 160], "nice": false, "zero": false},
          "axis": {"values": [8,16,24,32,40,48,56,64,72,80,88,96,104,112,120,128,136,144,152], "labels": false, "ticks": false, "domain": false, "grid": true, "gridColor": "#8d98a5", "gridDash": [3, 3], "title": null}},
    "y": {"field": "m", "type": "quantitative", "scale": {"domain": [-0.00339, 0.0039], "nice": false, "zero": false},
          "axis": {"orient": "right", "values": [-0.00321, 0.00244], "format": ".5f", "grid": true, "gridColor": "#8d98a5", "gridDash": [3, 3], "title": null, "labelPadding": 1, "labelFontSize": 10, "labelOverlap": false}},
    "y2": {"datum": 0}}},
  {"data": {"name": "signal"}, "mark": {"type": "line", "color": "#c83232", "strokeWidth": 1.1, "interpolate": "monotone"},
   "encoding": {
    "x": {"field": "i", "type": "quantitative", "scale": {"domain": [0, 160], "nice": false, "zero": false}},
    "y": {"field": "v", "type": "quantitative", "scale": {"domain": [-0.00339, 0.0039], "nice": false, "zero": false}}}},
  {"data": {"name": "notes2"}, "mark": {"type": "text", "align": "left", "baseline": "middle", "font": "Liberation Sans", "fontSize": 11},
   "encoding": {
    "x": {"field": "i", "type": "quantitative", "scale": {"domain": [0, 160], "nice": false, "zero": false}},
    "y": {"field": "v", "type": "quantitative", "scale": {"domain": [-0.00339, 0.0039], "nice": false, "zero": false}},
    "text": {"field": "t"},
    "color": {"field": "g", "type": "nominal", "scale": {"domain": ["k", "b", "r", "y", "p"], "range": ["#2a2a2a", "#24249a", "#c83232", "#f4f032", "#7c3cc8"]}, "legend": null}}}
 ]
},
{
 "width": 620, "height": 67,
 "layer": [
  {"data": {"name": "rsilevels"}, "mark": {"type": "rule", "strokeWidth": 1},
   "encoding": {
    "y": {"field": "lv", "type": "quantitative", "scale": {"domain": [-2, 133.3], "nice": false, "zero": false},
          "axis": {"orient": "right", "values": [0, 30, 70, 105], "labels": false, "grid": false, "title": null}},
    "color": {"condition": {"test": "datum.lv == 105", "value": "#8d98a5"}, "value": "#d6dade"},
    "strokeDash": {"condition": {"test": "datum.lv == 105", "value": [3, 3]}, "value": [1, 0]},
    "opacity": {"condition": {"test": "datum.lv == 0", "value": 0}, "value": 1}}},
  {"data": {"name": "rsi"}, "mark": {"type": "line", "color": "#c8504a", "strokeWidth": 1.1},
   "encoding": {
    "x": {"field": "i", "type": "quantitative", "scale": {"domain": [0, 160], "nice": false, "zero": false},
          "axis": {"values": [0,8,16,24,32,40,48,56,64,72,80,88,96,104,112,120,128,136,144,152,160], "ticks": false, "domain": false, "grid": true, "gridColor": "#8d98a5", "gridDash": [3, 3], "title": null,
                   "labelExpr": "datum.value % 16 == 0 ? ['00','15:00','10:00','2:00','18:00','10:00','2:00','18:00','10:00','5:00','21:00'][datum.value / 16] : ''",
                   "labelFlush": false, "labelOverlap": false, "labelPadding": 7,
                   "labelAlign": {"condition": {"test": "datum.value == 0", "value": "left"}, "value": "center"}}},
    "y": {"field": "r", "type": "quantitative", "scale": {"domain": [-2, 133.3], "nice": false, "zero": false}}}},
  {"data": {"name": "rsilevels"}, "mark": {"type": "text", "align": "left", "baseline": "middle", "font": "Liberation Sans", "fontSize": 10, "color": "#111111"},
   "encoding": {
    "x": {"datum": 161.3, "type": "quantitative", "scale": {"domain": [0, 160], "nice": false, "zero": false}},
    "y": {"field": "lv", "type": "quantitative", "scale": {"domain": [-2, 133.3], "nice": false, "zero": false}},
    "text": {"field": "lv", "type": "quantitative"}}},
  {"data": {"name": "notes3"}, "mark": {"type": "text", "align": "left", "baseline": "middle", "font": "Liberation Sans", "fontSize": 11},
   "encoding": {
    "x": {"field": "i", "type": "quantitative", "scale": {"domain": [0, 160], "nice": false, "zero": false}},
    "y": {"field": "r", "type": "quantitative", "scale": {"domain": [-2, 133.3], "nice": false, "zero": false}},
    "text": {"field": "t"},
    "color": {"field": "g", "type": "nominal", "scale": {"domain": ["k", "b", "r", "y", "p"], "range": ["#2a2a2a", "#24249a", "#c83232", "#f4f032", "#7c3cc8"]}, "legend": null}}}
 ]
}
]
}
